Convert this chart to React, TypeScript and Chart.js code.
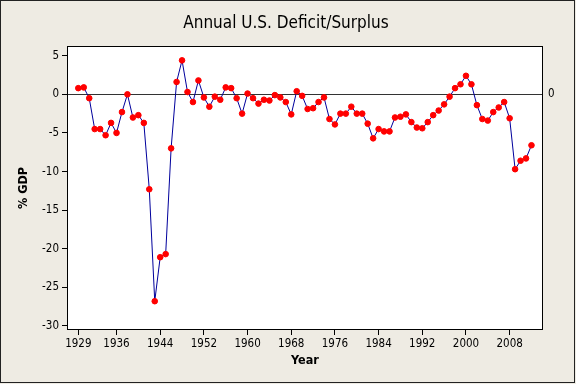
import React, { useEffect, useRef } from 'react';
import { Chart, registerables } from 'chart.js';

Chart.register(...registerables);

const years = [
  1929, 1930, 1931, 1932, 1933, 1934, 1935, 1936, 1937, 1938,
  1939, 1940, 1941, 1942, 1943, 1944, 1945, 1946, 1947, 1948,
  1949, 1950, 1951, 1952, 1953, 1954, 1955, 1956, 1957, 1958,
  1959, 1960, 1961, 1962, 1963, 1964, 1965, 1966, 1967, 1968,
  1969, 1970, 1971, 1972, 1973, 1974, 1975, 1976, 1977, 1978,
  1979, 1980, 1981, 1982, 1983, 1984, 1985, 1986, 1987, 1988,
  1989, 1990, 1991, 1992, 1993, 1994, 1995, 1996, 1997, 1998,
  1999, 2000, 2001, 2002, 2003, 2004, 2005, 2006, 2007, 2008,
  2009, 2010, 2011, 2012,
];

const deficitPctGdp = [
  0.8, 0.9, -0.5, -4.5, -4.5, -5.3, -3.7, -5.0, -2.3, 0.0,
  -3.0, -2.7, -3.7, -12.3, -26.8, -21.1, -20.7, -7.0, 1.6, 4.4,
  0.3, -1.0, 1.8, -0.4, -1.6, -0.3, -0.7, 0.9, 0.8, -0.5,
  -2.5, 0.1, -0.5, -1.2, -0.7, -0.8, -0.1, -0.4, -1.0, -2.6,
  0.4, -0.2, -1.9, -1.8, -1.0, -0.4, -3.2, -3.9, -2.5, -2.5,
  -1.6, -2.5, -2.5, -3.8, -5.7, -4.5, -4.8, -4.8, -3.0, -2.9,
  -2.6, -3.6, -4.3, -4.4, -3.6, -2.7, -2.1, -1.3, -0.3, 0.8,
  1.3, 2.4, 1.3, -1.4, -3.2, -3.4, -2.3, -1.7, -1.0, -3.1,
  -9.7, -8.6, -8.3, -6.6,
];

const xTickYears = [1929, 1936, 1944, 1952, 1960, 1968, 1976, 1984, 1992, 2000, 2008];
const yTickValues = [-30, -25, -20, -15, -10, -5, 0, 5];
const referenceValue = 0;

const titleText = 'Annual U.S. Deficit/Surplus';
const xTitle = 'Year';
const yTitle = '% GDP';

const FONT = "'DejaVu Sans Condensed', 'DejaVu Sans', sans-serif";
const BG = '#EEEBE3';

const decorPlugin = {
  id: 'decor',
  beforeDraw(chart: any) {
    const { ctx, width, height, chartArea } = chart;
    ctx.save();
    ctx.fillStyle = BG;
    ctx.fillRect(0, 0, width, height);
    ctx.strokeStyle = '#222';
    ctx.lineWidth = 1;
    ctx.strokeRect(0.5, 0.5, width - 2, height - 2);
    ctx.fillStyle = '#ffffff';
    ctx.fillRect(chartArea.left, chartArea.top, chartArea.right - chartArea.left, chartArea.bottom - chartArea.top);
    ctx.restore();
  },
  beforeDatasetsDraw(chart: any) {
    const { ctx, chartArea, scales } = chart;
    const y = Math.round(scales.y.getPixelForValue(referenceValue)) + 0.5;
    ctx.save();
    ctx.strokeStyle = '#333';
    ctx.lineWidth = 1;
    ctx.beginPath();
    ctx.moveTo(chartArea.left, y);
    ctx.lineTo(chartArea.right, y);
    ctx.stroke();
    ctx.fillStyle = '#000';
    ctx.font = `11.5px ${FONT}`;
    ctx.textAlign = 'left';
    ctx.textBaseline = 'middle';
    ctx.fillText(String(referenceValue), chartArea.right + 5, y);
    ctx.restore();
  },
  afterDraw(chart: any) {
    const { ctx, chartArea } = chart;
    ctx.save();
    ctx.strokeStyle = '#000';
    ctx.lineWidth = 1;
    ctx.strokeRect(
      Math.round(chartArea.left) + 0.5,
      Math.round(chartArea.top) + 0.5,
      Math.round(chartArea.right - chartArea.left) - 1,
      Math.round(chartArea.bottom - chartArea.top) - 1,
    );
    ctx.fillStyle = '#000';
    ctx.textAlign = 'center';
    ctx.textBaseline = 'middle';
    ctx.font = `17px ${FONT}`;
    ctx.fillText(titleText, 286, 24);
    ctx.font = `bold 12.5px ${FONT}`;
    ctx.fillText(xTitle, (chartArea.left + chartArea.right) / 2, 361);
    ctx.translate(24, (chartArea.top + chartArea.bottom) / 2);
    ctx.rotate(-Math.PI / 2);
    ctx.fillText(yTitle, 0, 0);
    ctx.restore();
  },
};

export default function App() {
  const canvasRef = useRef<HTMLCanvasElement | null>(null);

  useEffect(() => {
    document.body.style.margin = '0';
    const canvas = canvasRef.current;
    if (!canvas) return;
    const tickFont = { family: FONT, size: 11.5 };
    const chart = new Chart(canvas, {
      type: 'line',
      data: {
        datasets: [
          {
            data: years.map((yr, i) => ({ x: yr, y: deficitPctGdp[i] })),
            borderColor: '#00009C',
            borderWidth: 1,
            pointBackgroundColor: '#FF0000',
            pointBorderColor: '#FF0000',
            pointBorderWidth: 1,
            pointRadius: 2.8,
            tension: 0,
            fill: false,
          },
        ],
      },
      options: {
        responsive: false,
        animation: false,
        devicePixelRatio: 1,
        layout: { padding: { top: 46, right: 33, left: 0, bottom: 0 } },
        plugins: {
          legend: { display: false },
          tooltip: { enabled: false },
          title: { display: false },
        },
        scales: {
          x: {
            type: 'linear',
            min: 1926.93,
            max: 2014.11,
            afterBuildTicks: (s: any) => {
              s.ticks = xTickYears.map((v) => ({ value: v }));
            },
            afterFit: (s: any) => {
              s.height = 54;
            },
            ticks: {
              callback: (v: any) => String(v),
              color: '#000',
              font: tickFont,
              padding: 2,
              maxRotation: 0,
              autoSkip: false,
            },
            grid: {
              drawOnChartArea: false,
              drawTicks: true,
              tickLength: 5,
              color: '#000',
            },
            border: { display: false },
          },
          y: {
            type: 'linear',
            min: -30.53,
            max: 6.26,
            afterBuildTicks: (s: any) => {
              s.ticks = yTickValues.map((v) => ({ value: v }));
            },
            afterFit: (s: any) => {
              s.width = 67;
            },
            ticks: {
              callback: (v: any) => String(v),
              color: '#000',
              font: tickFont,
              padding: 3,
            },
            grid: {
              drawOnChartArea: false,
              drawTicks: true,
              tickLength: 5,
              color: '#000',
            },
            border: { display: false },
          },
        },
      },
      plugins: [decorPlugin],
    });
    return () => chart.destroy();
  }, []);

  return (
    <div style={{ position: 'absolute', left: 0, top: 0, width: 576, height: 384 }}>
      <canvas ref={canvasRef} width={576} height={384} style={{ width: 576, height: 384, display: 'block' }} />
    </div>
  );
}
